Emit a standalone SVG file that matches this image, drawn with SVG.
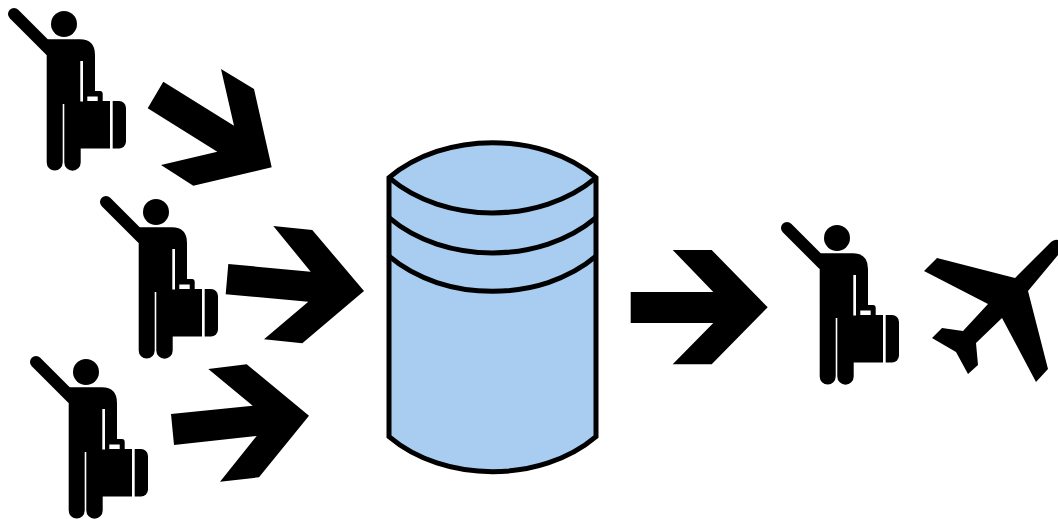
<svg xmlns="http://www.w3.org/2000/svg" width="1058" height="519" viewBox="0 0 1058 519">
<style>
.ink{fill:#000}
.arm{fill:none;stroke:#000;stroke-width:12;stroke-linecap:round}
.db{fill:#a9cdf0;stroke:#000;stroke-width:5;stroke-linejoin:miter}
.band{fill:none;stroke:#000;stroke-width:5}
</style>
<defs>
<g id="traveller">
<circle class="ink" cx="64" cy="24" r="13"/>
<path class="arm" d="M14,14L50,50"/>
<path class="ink" fill-rule="evenodd" d="M47.5,39.3H80Q95,39.3 95,55V91H100Q102.7,91 102.7,94V101H110V148.5H80.7V162.5a8.2,8.2 0 0 1 -16.4,0V104H62.7V162.5a8,8 0 0 1 -16,0V50ZM80.3,61V101.5H83V61ZM87.3,96.5V101H97.7V96.5Z"/>
<path class="ink" d="M112.7,101H119a7,7 0 0 1 7,7V141.5a7,7 0 0 1 -7,7H112.7Z"/>
</g>
</defs>
<g id="connectors">
<polygon class="ink" points="163.3,81.7 234,125.7 221,69 254,89 271.7,167.3 193.3,185.7 161,165 217.3,151.7 147.7,108.3"/>
<polygon class="ink" points="228.3,264 310.7,271.7 273.3,226 312.3,230 364,291 302.3,343.3 264,339.3 308.3,301.7 225.7,294.3"/>
<polygon class="ink" points="171,414 252.7,405.7 208.3,369 246.7,364.3 309,415.7 259,477.3 220,481.7 256.7,436 174,445"/>
<polygon class="ink" points="630.7,292 713.3,292 672.7,250 711.7,250 767.7,307.3 711.7,364.3 672.7,364.3 713.3,323 630.7,323"/>
</g>
<g id="traveller-1"><use href="#traveller"/></g>
<g id="traveller-2"><use href="#traveller" x="92" y="188"/></g>
<g id="traveller-3"><use href="#traveller" x="22" y="348"/></g>
<g id="traveller-4"><use href="#traveller" x="773" y="214"/></g>
<g id="database">
<path class="db" d="M389,177.7C444,131 541,131 596,177.7V436.7C541,483.4 444,483.4 389,436.7Z"/>
<path class="band" d="M389,177.7C444,224.7 541,224.7 596,177.7"/>
<path class="band" d="M389,217.7C444,264.7 541,264.7 596,217.7"/>
<path class="band" d="M389,256.2C444,303 541,303 596,256.2"/>
</g>
<g id="airplane">
<path class="ink" d="M1049,244Q1054,239 1058,240V255L1028,291L1048,369L1036,382L1002,318L976,343L978,365L968,374L956,352L932,338L942,328L963,331L988,304L924,271L937,258L1015,278Z"/>
</g>
</svg>
